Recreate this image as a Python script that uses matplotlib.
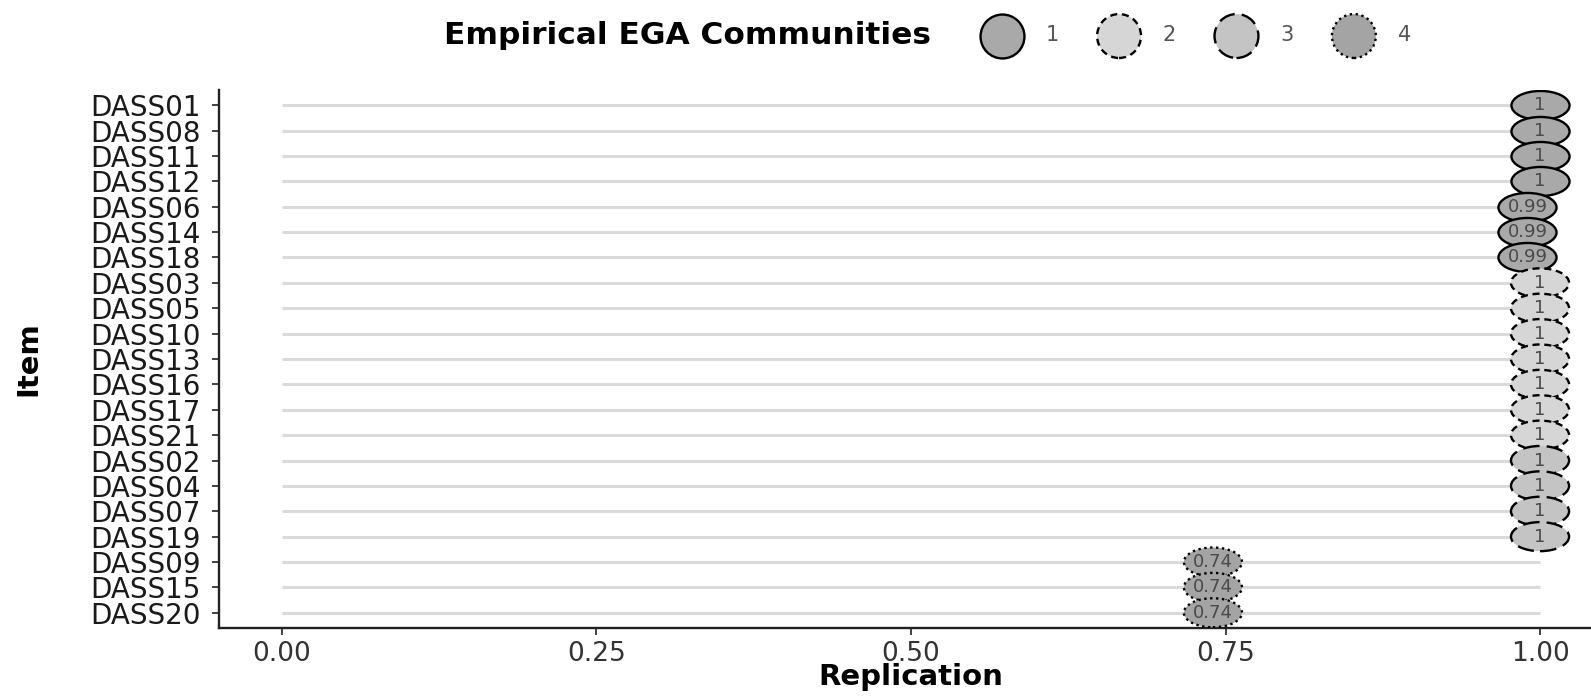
import matplotlib.pyplot as plt
import numpy as np
from matplotlib.path import Path

items = ["DASS01", "DASS08", "DASS11", "DASS12", "DASS06", "DASS14", "DASS18",
         "DASS03", "DASS05", "DASS10", "DASS13", "DASS16", "DASS17", "DASS21",
         "DASS02", "DASS04", "DASS07", "DASS19", "DASS09", "DASS15", "DASS20"]
replication = [1, 1, 1, 1, 0.99, 0.99, 0.99,
               1, 1, 1, 1, 1, 1, 1,
               1, 1, 1, 1, 0.74, 0.74, 0.74]
community = [1, 1, 1, 1, 1, 1, 1,
             2, 2, 2, 2, 2, 2, 2,
             3, 3, 3, 3, 4, 4, 4]
value_labels = ["1", "1", "1", "1", "0.99", "0.99", "0.99",
                "1", "1", "1", "1", "1", "1", "1",
                "1", "1", "1", "1", "0.74", "0.74", "0.74"]

fills = {1: "#a9a9a9", 2: "#d6d6d6", 3: "#c4c4c4", 4: "#a4a4a4"}
styles = {1: "-", 2: (0, (3, 2)), 3: (0, (7, 3)), 4: (0, (1, 1.5))}

plt.rcParams["font.family"] = ["DejaVu Sans"]

# wide ellipse marker
circ = Path.unit_circle()
ellipse = Path(circ.vertices * np.array([1.0, 0.5]), circ.codes)

fig = plt.figure(figsize=(15.91, 6.96), dpi=100)
# axes runs a little past the right edge, like the cropped original
ax = fig.add_axes([0.1377, 0.0977, 0.8698, 0.773])

n = len(items)
ypos = np.arange(n)[::-1]

ax.hlines(ypos, 0, 1, color="#dadada", lw=2.2, zorder=1)

for c in [1, 2, 3, 4]:
    idx = [i for i in range(n) if community[i] == c]
    ax.scatter([replication[i] for i in idx], [ypos[i] for i in idx],
               marker=ellipse, s=1750, facecolor=fills[c], edgecolor="black",
               linewidths=1.7, linestyles=[styles[c]], zorder=3)

for i in range(n):
    ax.text(replication[i], ypos[i], value_labels[i], ha="center", va="center",
            fontsize=13, color="#4a4a4a", zorder=4)

ax.set_xlim(-0.05, 1.05)
ax.set_ylim(-0.6, n - 0.4)
ax.set_yticks(ypos)
ax.set_yticklabels(items, fontsize=20, color="#1a1a1a")
ax.set_xticks([0, 0.25, 0.5, 0.75, 1.0])
ax.set_xticklabels(["0.00", "0.25", "0.50", "0.75", "1.00"], fontsize=19, color="#333333")
ax.tick_params(length=5, width=1.3, color="#333333")
ax.tick_params(axis="y", pad=8)
ax.tick_params(axis="x", pad=4)
for s in ["top", "right"]:
    ax.spines[s].set_visible(False)
for s in ["left", "bottom"]:
    ax.spines[s].set_linewidth(1.7)
    ax.spines[s].set_color("#222222")

ax.set_xlabel("Replication", fontsize=21, fontweight="bold", va="center")
ax.xaxis.set_label_coords(0.5, -0.092)
ax.set_ylabel("Item", fontsize=21, fontweight="bold", va="center",
              family=["Liberation Sans Narrow", "DejaVu Sans"])
ax.yaxis.set_label_coords(-0.138, 0.5)

# legend across the top
handles = []
for c in [1, 2, 3, 4]:
    h = ax.scatter([], [], marker="o", s=1000, facecolor=fills[c], edgecolor="black",
                   linewidths=1.7, linestyles=[styles[c]])
    handles.append(h)
fig.text(0.585, 0.949, "Empirical EGA Communities", ha="right", va="center",
         fontsize=22.5, fontweight="bold")
leg = fig.legend(handles, ["1", "2", "3", "4"], loc="center left",
                 bbox_to_anchor=(0.606, 0.949), ncol=4, frameon=False,
                 handletextpad=1.2, columnspacing=2.0, handlelength=1.8,
                 fontsize=15)
for t in leg.get_texts():
    t.set_color("#555555")

fig.savefig("out.png", dpi=100)
